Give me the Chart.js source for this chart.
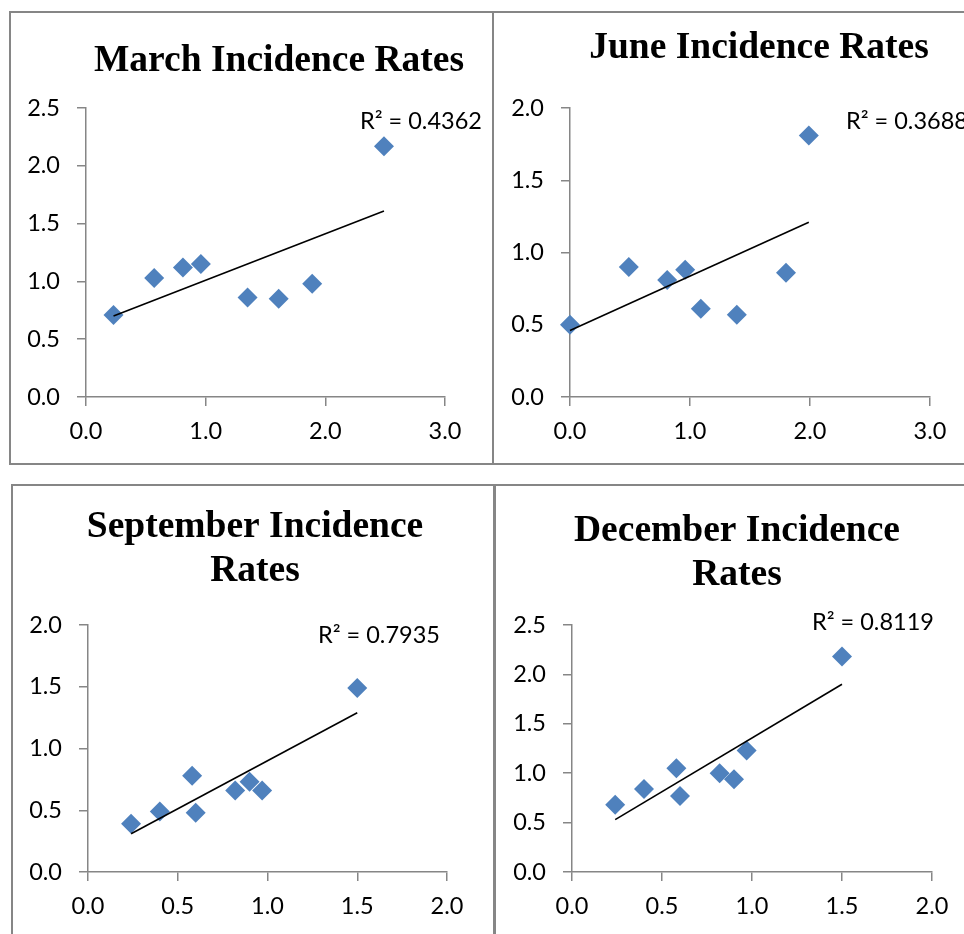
<!DOCTYPE html>
<html>
<head>
<meta charset="utf-8">
<title>Incidence Rates</title>
<script src="https://cdn.jsdelivr.net/npm/chart.js@4.4.1/dist/chart.umd.min.js"></script>
<style>
  html, body { margin: 0; padding: 0; background: #fff; width: 964px; height: 934px; overflow: hidden; }
  .panel { position: absolute; box-sizing: border-box; border: 2px solid #868686; background: #fff; }
  .panel canvas { position: absolute; left: 0; top: 0; }
</style>
</head>
<body>
<div class="panel" id="p-march"><canvas id="c-march"></canvas></div>
<div class="panel" id="p-june"><canvas id="c-june"></canvas></div>
<div class="panel" id="p-sep"><canvas id="c-sep"></canvas></div>
<div class="panel" id="p-dec"><canvas id="c-dec"></canvas></div>
<script>
// Werte
const marchX = [0.23, 0.57, 0.81, 0.96, 1.35, 1.61, 1.89, 2.49];
const marchY = [0.71, 1.03, 1.12, 1.15, 0.86, 0.85, 0.98, 2.17];
const juneX  = [0.00, 0.49, 0.81, 0.96, 1.09, 1.39, 1.80, 1.99];
const juneY  = [0.50, 0.90, 0.81, 0.88, 0.61, 0.57, 0.86, 1.81];
const sepX   = [0.24, 0.40, 0.58, 0.60, 0.82, 0.90, 0.97, 1.50];
const sepY   = [0.39, 0.49, 0.78, 0.48, 0.66, 0.73, 0.66, 1.49];
const decX   = [0.24, 0.40, 0.58, 0.60, 0.82, 0.90, 0.97, 1.50];
const decY   = [0.68, 0.84, 1.05, 0.77, 1.00, 0.94, 1.23, 2.18];

const marchTrendX = [0.23, 2.49], marchTrendY = [0.70, 1.61];
const juneTrendX  = [0.00, 1.99], juneTrendY  = [0.46, 1.21];
const sepTrendX   = [0.24, 1.50], sepTrendY   = [0.31, 1.29];
const decTrendX   = [0.24, 1.50], decTrendY   = [0.53, 1.90];

const r2Labels = ['R² = 0.4362', 'R² = 0.3688', 'R² = 0.7935', 'R² = 0.8119'];
const titles = [
  ['March Incidence Rates'],
  ['June Incidence Rates'],
  ['September Incidence', 'Rates'],
  ['December Incidence', 'Rates'],
];

// Achsenbeschriftungen
const ticks0to3   = [0, 1, 2, 3];
const ticks0to2   = [0, 0.5, 1, 1.5, 2];
const ticks0to2_5 = [0, 0.5, 1, 1.5, 2, 2.5];

const C = {
  point: '#4f81bd',
  axis:  '#868686',
  text:  '#000',
};
const Y_W = 60;   // Breite der y-Achse
const X_H = 50;   // Höhe der x-Achse
const TICK_FONT = { family: 'Lato, "Noto Sans", sans-serif', size: 23.5 };

// box: Rahmen [left, top, width, height], plot: Zeichenfläche [l, t, r, b] (Seitenkoordinaten)
const PANELS = [
  { key: 'march', xs: marchX, ys: marchY, tx: marchTrendX, ty: marchTrendY, title: titles[0], r2: r2Labels[0],
    xTicks: ticks0to3, yTicks: ticks0to2_5, box: [9, 11, 485, 454], plot: [86, 108, 445, 397],
    titlePos: [279, 71], r2Pos: [360, 121] },
  { key: 'june', xs: juneX, ys: juneY, tx: juneTrendX, ty: juneTrendY, title: titles[1], r2: r2Labels[1],
    xTicks: ticks0to3, yTicks: ticks0to2, box: [492, 11, 500, 454], plot: [570, 108, 930, 397],
    titlePos: [759, 58], r2Pos: [846, 121] },
  { key: 'sep', xs: sepX, ys: sepY, tx: sepTrendX, ty: sepTrendY, title: titles[2], r2: r2Labels[2],
    xTicks: ticks0to2, yTicks: ticks0to2, box: [11, 484, 484, 500], plot: [88, 625, 447, 872],
    titlePos: [255, 537], r2Pos: [318, 635] },
  { key: 'dec', xs: decX, ys: decY, tx: decTrendX, ty: decTrendY, title: titles[3], r2: r2Labels[3],
    xTicks: ticks0to2, yTicks: ticks0to2_5, box: [494, 484, 500, 500], plot: [572, 625, 932, 872],
    titlePos: [737, 541], r2Pos: [812, 622] },
];

// Titel und R²-Text
const panelText = {
  id: 'panelText',
  afterDraw(chart, args, o) {
    const ctx = chart.ctx;
    ctx.save();
    ctx.fillStyle = C.text;
    ctx.font = 'bold 37.5px "Liberation Serif", "Times New Roman", serif';
    ctx.textAlign = 'center';
    ctx.textBaseline = 'alphabetic';
    o.title.forEach((line, i) => ctx.fillText(line, o.titleX, o.titleY + i * 43.5));
    ctx.font = '23.5px Lato, "Noto Sans", sans-serif';
    ctx.textAlign = 'left';
    ctx.textBaseline = 'middle';
    ctx.fillText(o.r2, o.r2X, o.r2Y);
    ctx.restore();
  },
};

function axis(ticks, isX) {
  return {
    type: 'linear',
    min: ticks[0],
    max: ticks[ticks.length - 1],
    afterBuildTicks: s => { s.ticks = ticks.map(v => ({ value: v })); },
    afterFit: s => { if (isX) s.height = X_H; else s.width = Y_W; },
    grid: { drawOnChartArea: false, drawTicks: true, tickLength: 9, color: C.axis, lineWidth: 1.5 },
    border: { color: C.axis, width: 1.5 },
    ticks: {
      font: TICK_FONT, color: C.text, padding: isX ? 11 : 17,
      maxRotation: 0, autoSkip: false, callback: v => Number(v).toFixed(1),
    },
  };
}

function buildPanel(p) {
  const wrap = document.getElementById('p-' + p.key);
  const [bl, bt, bw, bh] = p.box;
  wrap.style.left = bl + 'px';
  wrap.style.top = bt + 'px';
  wrap.style.width = bw + 'px';
  wrap.style.height = bh + 'px';

  const ox = bl + 2, oy = bt + 2;
  const cw = bw - 4, ch = bh - 4;
  const canvas = document.getElementById('c-' + p.key);
  canvas.width = cw;
  canvas.height = ch;
  canvas.style.width = cw + 'px';
  canvas.style.height = ch + 'px';

  const [pl, pt, pr, pb] = p.plot;
  const padding = {
    left: pl - ox - Y_W,
    top: pt - oy,
    right: cw - (pr - ox),
    bottom: ch - (pb - oy) - X_H,
  };

  new Chart(canvas.getContext('2d'), {
    type: 'scatter',
    data: {
      datasets: [
        {
          data: p.tx.map((x, i) => ({ x, y: p.ty[i] })),
          showLine: true,
          borderColor: '#000',
          borderWidth: 1.6,
          pointRadius: 0,
          clip: false,
        },
        {
          data: p.xs.map((x, i) => ({ x, y: p.ys[i] })),
          pointStyle: 'rectRot',
          pointRadius: 10,
          pointHoverRadius: 10,
          backgroundColor: C.point,
          borderColor: C.point,
          borderWidth: 0,
          clip: false,
        },
      ],
    },
    options: {
      responsive: false,
      animation: false,
      events: [],
      layout: { padding },
      plugins: {
        legend: { display: false },
        tooltip: { enabled: false },
        panelText: {
          title: p.title, r2: p.r2,
          titleX: p.titlePos[0] - ox, titleY: p.titlePos[1] - oy,
          r2X: p.r2Pos[0] - ox, r2Y: p.r2Pos[1] - oy,
        },
      },
      scales: { x: axis(p.xTicks, true), y: axis(p.yTicks, false) },
    },
    plugins: [panelText],
  });
}

PANELS.forEach(buildPanel);
</script>
</body>
</html>
